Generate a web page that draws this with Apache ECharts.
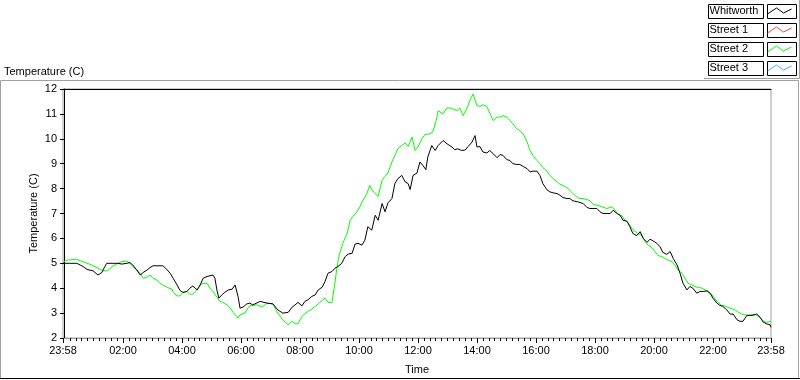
<!DOCTYPE html>
<html>
<head>
<meta charset="utf-8">
<script src="https://cdn.jsdelivr.net/npm/echarts@6/dist/echarts.min.js"></script>
<style>
html, body { margin: 0; padding: 0; background: #fff; }
#chart { width: 800px; height: 380px; }
</style>
</head>
<body>
<div id="chart"></div>
<script>
// time in minutes from midnight, -2 is 23:58 of the day before
const whitworthTime = [-2, 12, 26, 33, 39, 47, 59, 69, 77, 83, 87, 100, 108, 118, 128, 134, 140, 148, 155, 161, 169, 175, 181, 191, 201, 207, 216, 222, 230, 236, 242, 250, 256, 262, 271, 277, 283, 291, 297, 303, 307, 311, 315, 321, 327, 334, 342, 348, 352, 354, 358, 364, 372, 378,
    384, 399, 413, 425, 435, 445, 456, 464, 470, 476, 484, 490, 496, 504, 511, 517, 525, 531, 537, 545, 551, 557, 565, 572, 578, 586, 592, 598, 606, 612, 618, 626, 633, 639, 647, 653, 659, 667, 673, 679, 687, 694, 700, 704, 710, 718, 724, 730, 736, 740, 748, 755, 761,
    765, 771, 779, 789, 795, 801, 809, 816, 822, 830, 836, 840, 846, 852, 860, 866, 873, 881, 887, 893, 901, 907, 913, 921, 927, 934, 942, 948, 954, 962, 968, 974, 982, 988, 995, 1003, 1009, 1015, 1023, 1029, 1035, 1039, 1045, 1056, 1064, 1070, 1076, 1084,
    1090, 1096, 1104, 1111, 1117, 1125, 1131, 1137, 1145, 1151, 1157, 1165, 1172, 1176, 1178, 1186, 1192, 1198, 1206, 1212, 1218, 1226, 1233, 1239, 1247, 1253, 1259, 1267, 1273, 1279, 1287, 1294, 1300, 1308, 1314, 1320, 1328, 1334, 1340, 1348, 1355, 1361, 1369, 1375, 1381, 1389, 1395, 1401, 1409, 1416, 1422, 1430, 1436, 1438];
const whitworthTemp = [5.0, 5.0, 5.0, 4.93, 4.87, 4.75, 4.7, 4.53, 4.63, 4.87, 5.0, 5.0, 5.0, 4.97, 5.0, 5.03, 4.93, 4.73, 4.53, 4.63, 4.73, 4.83, 4.9, 4.9, 4.9, 4.8, 4.6, 4.4, 4.13, 3.91, 3.83, 3.87, 4.0, 4.09, 3.93, 4.13, 4.4, 4.47, 4.5, 4.53, 4.4, 3.93, 3.6, 3.73, 3.83, 3.93, 3.96, 4.13, 4.2, 3.67, 3.2, 3.24, 3.37, 3.4,
    3.33, 3.47, 3.4, 3.37, 3.13, 3.0, 3.03, 3.24, 3.33, 3.43, 3.29, 3.47, 3.53, 3.67, 3.73, 3.93, 4.04, 4.27, 4.6, 4.67, 4.8, 4.87, 5.0, 5.27, 5.37, 5.4, 5.77, 5.8, 5.73, 5.93, 6.47, 6.33, 6.93, 6.73, 7.4, 7.07, 7.43, 7.6, 8.2, 8.4, 8.53, 8.27, 8.2, 7.96, 8.53, 8.63, 9.07, 8.93, 8.76, 9.27, 9.73, 9.53, 9.73,
    9.76, 9.93, 9.8, 9.67, 9.56, 9.6, 9.53, 9.55, 9.69, 9.87, 10.13, 9.67, 9.69, 9.47, 9.43, 9.53, 9.4, 9.24, 9.37, 9.33, 9.16, 9.13, 9.0, 8.97, 8.97, 8.89, 8.8, 8.67, 8.7, 8.7, 8.53, 8.2, 7.96, 7.87, 7.83, 7.8, 7.73, 7.64, 7.6, 7.6, 7.51, 7.56, 7.47, 7.4, 7.24, 7.2, 7.2, 7.2,
    7.07, 7.0, 7.0, 7.0, 7.13, 7.0, 6.93, 6.73, 6.69, 6.47, 6.2, 6.11, 6.27, 6.27, 6.0, 5.84, 5.97, 5.9, 5.8, 5.67, 5.44, 5.36, 5.47, 5.2, 4.93, 4.6, 4.2, 3.93, 4.07, 4.0, 3.8, 3.87, 3.87, 3.89, 3.8, 3.6, 3.4, 3.31, 3.27, 3.13, 2.96, 2.96, 2.73, 2.67, 2.67, 2.91, 2.91, 2.91, 2.96, 2.83, 2.64, 2.56, 2.53, 2.43];

const street2Time = [-2, 6, 12, 18, 26, 33, 43, 53, 63, 73, 79, 89, 98, 104, 110, 118, 128, 134, 140, 148, 155, 161, 169, 175, 181, 189, 195, 201, 210, 220, 222, 230, 236, 242, 250, 256, 262, 271, 277, 283, 291, 297, 303, 311, 317, 323, 332, 338, 344, 354, 358, 368, 374, 378,
    393, 403, 413, 425, 435, 445, 456, 464, 470, 476, 484, 490, 496, 504, 511, 517, 525, 531, 537, 545, 551, 555, 559, 567, 576, 582, 588, 596, 602, 608, 616, 622, 626, 633, 639, 647, 653, 659, 667, 673, 679, 687, 694, 700, 708, 714, 720, 728, 734, 744, 750, 757, 761,
    765, 771, 779, 785, 791, 799, 805, 812, 820, 826, 832, 840, 846, 852, 860, 866, 873, 881, 887, 893, 901, 907, 913, 921, 927, 934, 942, 948, 954, 962, 968, 974, 982, 988, 995, 1003, 1009, 1015, 1023, 1029, 1035, 1043, 1049, 1056, 1064, 1070, 1076, 1084,
    1090, 1104, 1115, 1121, 1127, 1135, 1141, 1147, 1155, 1161, 1167, 1176, 1182, 1188, 1196, 1202, 1208, 1216, 1222, 1228, 1237, 1243, 1249, 1257, 1263, 1269, 1277, 1283, 1290, 1298, 1304, 1310, 1318, 1324, 1330, 1338, 1344, 1350, 1359, 1365, 1371, 1379, 1385, 1391, 1399, 1405, 1412, 1420, 1426, 1432, 1438];
const street2Temp = [5.03, 5.13, 5.13, 5.16, 5.16, 5.1, 5.03, 4.96, 4.87, 4.76, 4.7, 4.7, 4.87, 4.93, 5.0, 5.07, 5.09, 5.0, 4.87, 4.73, 4.6, 4.4, 4.44, 4.53, 4.4, 4.33, 4.2, 4.13, 4.03, 3.96, 3.83, 3.69, 3.69, 3.83, 3.87, 3.76, 3.76, 3.96, 4.13, 4.2, 4.2, 4.0, 3.87, 3.64, 3.47, 3.43, 3.33, 3.2, 3.03, 2.8, 2.93, 3.0, 3.2, 3.3,
    3.33, 3.24, 3.4, 3.37, 3.0, 2.73, 2.53, 2.67, 2.57, 2.57, 2.87, 2.97, 3.07, 3.16, 3.27, 3.37, 3.51, 3.6, 3.43, 3.43, 4.2, 4.8, 5.27, 5.8, 6.2, 6.73, 6.89, 7.07, 7.27, 7.53, 7.8, 8.13, 7.96, 7.8, 7.69, 8.33, 8.49, 8.63, 9.07, 9.33, 9.6, 9.73, 9.83, 9.69, 10.07, 9.53, 9.67, 10.0, 10.17, 10.2, 10.27, 10.73, 11.13,
    11.13, 11.0, 11.24, 11.24, 11.2, 11.13, 11.24, 10.93, 11.24, 11.56, 11.8, 11.33, 11.3, 11.37, 11.3, 11.03, 10.73, 10.87, 10.87, 10.93, 10.87, 10.73, 10.6, 10.4, 10.33, 10.2, 9.87, 9.53, 9.33, 9.13, 9.0, 8.84, 8.71, 8.53, 8.4, 8.27, 8.17, 8.13, 8.04, 7.93, 7.8, 7.67, 7.6, 7.6, 7.56, 7.51, 7.37, 7.33,
    7.3, 7.2, 7.27, 7.13, 6.96, 6.91, 6.73, 6.64, 6.4, 6.29, 6.2, 6.11, 5.87, 5.73, 5.63, 5.47, 5.31, 5.27, 5.2, 5.13, 5.07, 4.91, 4.73, 4.6, 4.4, 4.2, 4.13, 4.07, 4.03, 4.0, 3.93, 3.89, 3.73, 3.57, 3.44, 3.31, 3.29, 3.23, 3.17, 3.13, 3.04, 2.96, 2.93, 2.91, 2.93, 2.96, 2.87, 2.73, 2.64, 2.64, 2.67];

const seriesNames = ['Whitworth', 'Street 1', 'Street 2', 'Street 3'];
const seriesColors = ['#000000', '#ff4040', '#00ff00', '#33bbff'];
const labelTimes = [-2, 120, 240, 360, 480, 600, 720, 840, 960, 1080, 1200, 1320, 1438];

const minorTimes = [];
for (let m = 12; m < 1438; m += 12) {
    if (m % 120 !== 0) minorTimes.push(m);
}

function fmtTime(m) {
    if (m < 0 || m >= 1438) return '23:58';
    const h = Math.floor(m / 60), mm = m % 60;
    return (h < 10 ? '0' : '') + h + ':' + (mm < 10 ? '0' : '') + mm;
}

function pairs(t, v) {
    return t.map(function (x, i) { return [x, v[i]]; });
}

const font = 'Liberation Sans';
let myChart = echarts.init(document.getElementById('chart'));

// boxes around the legend items
let boxes = [];
for (let i = 0; i < 4; i++) {
    boxes.push({ type: 'rect', z: -10, shape: { x: 708.5, y: 4.5 + 19 * i, width: 55, height: 14 }, style: { fill: null, stroke: '#000', lineWidth: 1 } });
    boxes.push({ type: 'rect', z: -10, shape: { x: 767.5, y: 4.5 + 19 * i, width: 29, height: 14 }, style: { fill: null, stroke: '#000', lineWidth: 1 } });
}
boxes.push({ type: 'polyline', z: -10, shape: { points: [[704, 78.5], [799.5, 78.5], [799.5, 0]] }, style: { stroke: '#a0a0a0', fill: null, lineWidth: 1 } });
// outer panel
boxes.push({ type: 'polyline', z: -10, shape: { points: [[0.5, 378], [0.5, 80.5], [798.5, 80.5], [798.5, 378]] }, style: { stroke: '#a0a0a0', fill: null, lineWidth: 1 } });
boxes.push({ type: 'line', z: -10, shape: { x1: 0, y1: 378.5, x2: 800, y2: 378.5 }, style: { stroke: '#000', lineWidth: 1 } });

let option = {
    animation: false,
    backgroundColor: '#fff',
    textStyle: { fontFamily: font, fontSize: 11, color: '#000' },
    title: {
        text: 'Temperature (C)',
        left: 4, top: 66, padding: 0,
        textStyle: { fontFamily: font, fontSize: 11, fontWeight: 'normal', color: '#000' }
    },
    graphic: boxes,
    legend: {
        data: seriesNames.map(function (n, i) {
            return { name: n, itemStyle: { color: 'none', borderColor: seriesColors[i], borderWidth: 1 } };
        }),
        orient: 'vertical',
        right: 6, top: 4, padding: 0,
        align: 'right',
        itemWidth: 24, itemHeight: 14, itemGap: 5,
        selectedMode: false,
        icon: 'path://M0,6L9,0L16,5L24,1',
        formatter: function (name) { return '{n|' + name + '}'; },
        textStyle: {
            fontFamily: font, fontSize: 11, color: '#000',
            rich: { n: { width: 53, height: 14, align: 'left', lineHeight: 14, fontFamily: font, fontSize: 11 } }
        }
    },
    grid: { left: 63, right: 29, top: 89, bottom: 40, show: true, borderColor: '#a0a0a0', borderWidth: 1, backgroundColor: '#fff' },
    xAxis: [
        {
            type: 'value', min: -2, max: 1438, position: 'bottom',
            name: 'Time', nameLocation: 'middle', nameGap: 26,
            nameTextStyle: { fontFamily: font, fontSize: 11, color: '#000' },
            axisLine: { lineStyle: { color: '#a0a0a0' } },
            axisTick: { customValues: labelTimes, length: 5, lineStyle: { color: '#000' } },
            axisLabel: { customValues: labelTimes, formatter: fmtTime, margin: 7, color: '#000', fontFamily: font, fontSize: 11 },
            splitLine: { show: false }
        },
        {
            type: 'value', min: -2, max: 1438, position: 'bottom',
            axisLine: { show: false },
            axisTick: { customValues: minorTimes, length: 3, lineStyle: { color: '#000' } },
            axisLabel: { show: false },
            splitLine: { show: false }
        },
        {
            type: 'value', min: -2, max: 1438, position: 'top',
            axisLine: { lineStyle: { color: '#000' } },
            axisTick: { show: false },
            axisLabel: { show: false },
            splitLine: { show: false }
        }
    ],
    yAxis: {
        type: 'value', min: 2, max: 12, interval: 1,
        name: 'Temperature (C)', nameLocation: 'middle', nameGap: 24, nameRotate: 90,
        nameMoveOverlap: false,
        nameTextStyle: { fontFamily: font, fontSize: 11, color: '#000' },
        axisLine: { show: true, lineStyle: { color: '#000' } },
        axisTick: { show: true, length: 4, lineStyle: { color: '#000' } },
        axisLabel: { margin: 6, color: '#000', fontFamily: font, fontSize: 11 },
        splitLine: { show: false }
    },
    series: [
        { name: seriesNames[0], type: 'line', data: pairs(whitworthTime, whitworthTemp), showSymbol: false, symbol: 'none', color: seriesColors[0], lineStyle: { width: 1, color: seriesColors[0] }, z: 3 },
        { name: seriesNames[1], type: 'line', data: [], showSymbol: false, symbol: 'none', color: seriesColors[1], lineStyle: { width: 1 } },
        { name: seriesNames[2], type: 'line', data: pairs(street2Time, street2Temp), showSymbol: false, symbol: 'none', color: seriesColors[2], lineStyle: { width: 1, color: seriesColors[2] }, z: 2 },
        { name: seriesNames[3], type: 'line', data: [], showSymbol: false, symbol: 'none', color: seriesColors[3], lineStyle: { width: 1 } }
    ]
};
myChart.setOption(option);
</script>
</body>
</html>
